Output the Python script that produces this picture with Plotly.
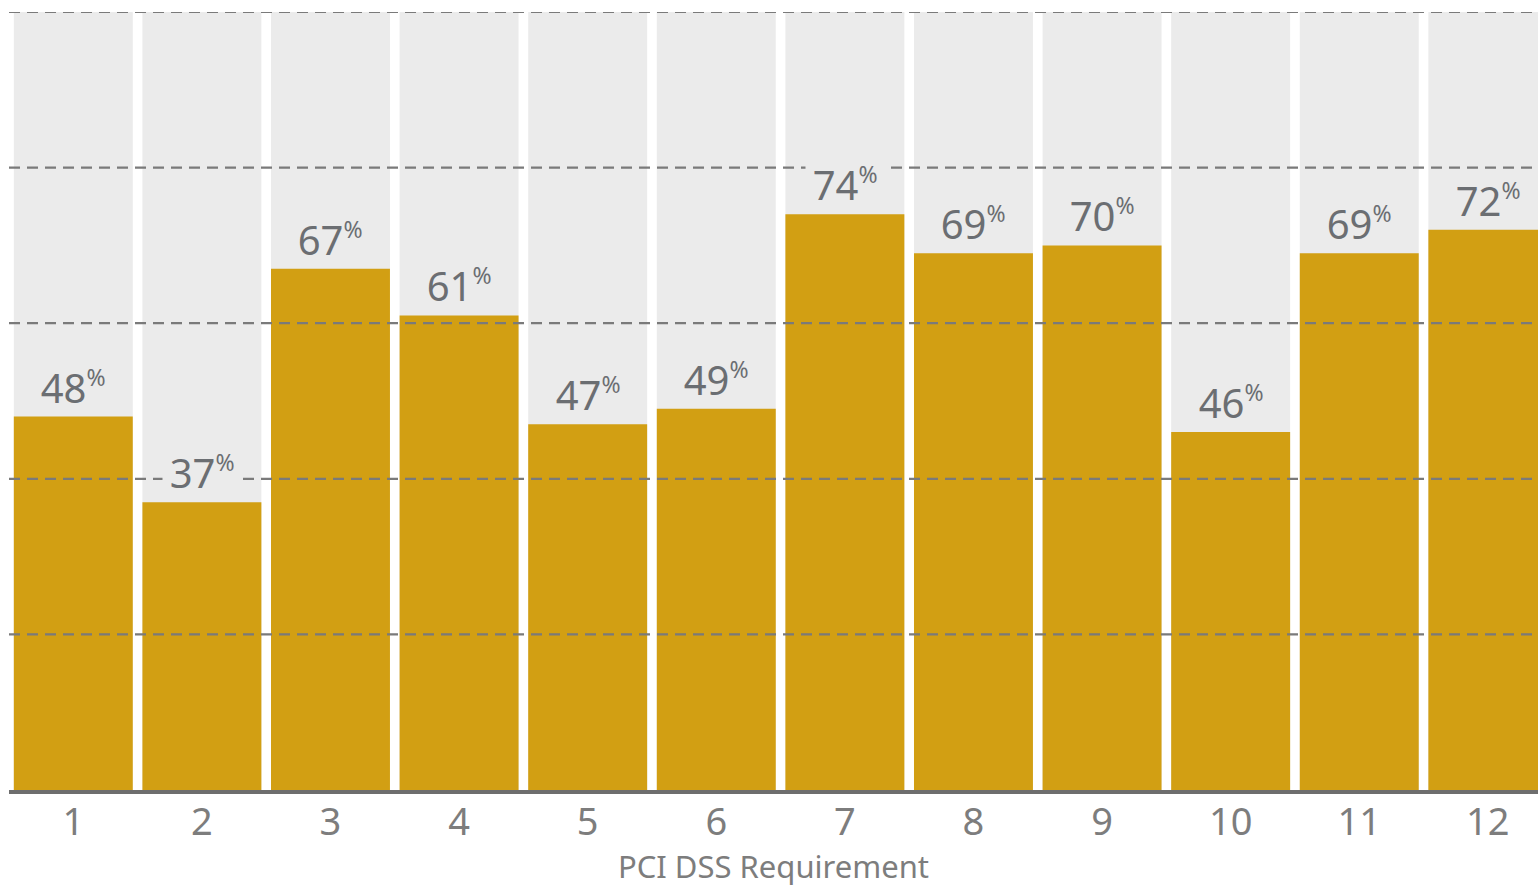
import plotly.graph_objects as go

requirements = [1, 2, 3, 4, 5, 6, 7, 8, 9, 10, 11, 12]
tick_labels = [str(r) for r in requirements]
compliance = [48, 37, 67, 61, 47, 49, 74, 69, 70, 46, 69, 72]
full_scale = [100] * len(requirements)
grid_values = [20, 40, 60, 80, 100]

GOLD = "#D29F13"
COLUMN = "#EBEBEB"
GRID = "#7A7A7A"
LABEL = "#6B6E72"
TICK = "#7D7D7D"
FONT = "Noto Sans"

fig = go.Figure()
fig.add_trace(go.Bar(x=requirements, y=full_scale, marker=dict(color=COLUMN, line=dict(width=0)),
                     hoverinfo="skip", showlegend=False))
fig.add_trace(go.Bar(x=requirements, y=compliance, marker=dict(color=GOLD, line=dict(width=0)),
                     showlegend=False))

for g in grid_values:
    fig.add_shape(type="line", xref="paper", x0=0, x1=1, yref="y", y0=g, y1=g,
                  line=dict(color=GRID, width=2.2, dash="11px,7px"), layer="above")

for r, v in zip(requirements, compliance):
    fig.add_annotation(x=r, y=v,
                       text=f"\u2009{v}<sup><span style='font-size:23px'>%</span></sup>\u2009",
                       showarrow=False, yanchor="bottom", xanchor="center", yshift=1,
                       font=dict(family=FONT, size=40, color=LABEL),
                       bgcolor=COLUMN, borderpad=0)

fig.update_layout(
    width=1538, height=887,
    margin=dict(l=9, r=0, t=12, b=97),
    paper_bgcolor="white", plot_bgcolor="white",
    barmode="overlay", bargap=0.075,
    font=dict(family=FONT, color=TICK),
    xaxis=dict(range=[0.5, 12.39], tickmode="array", tickvals=requirements, ticktext=tick_labels,
               showgrid=False, zeroline=False, showline=True, linecolor="#6E6E6E", linewidth=4,
               layer="above traces", ticks="", ticklabelstandoff=-5,
               tickfont=dict(family=FONT, size=38, color=TICK),
               title=dict(text="PCI DSS Requirement", font=dict(family=FONT, size=31, color=TICK),
                          standoff=8)),
    yaxis=dict(range=[0, 100], showgrid=False, zeroline=False, showticklabels=False, ticks=""),
)

fig.write_html("out.html")
